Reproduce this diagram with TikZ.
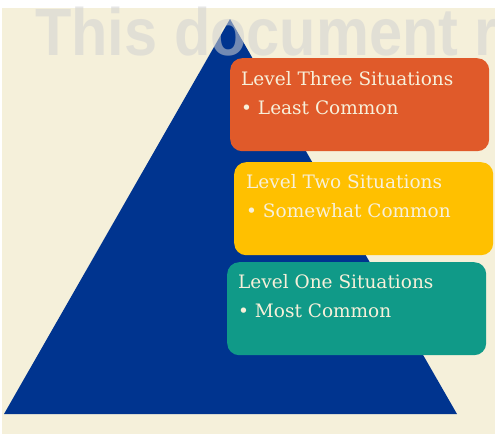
\documentclass[tikz,border=0pt]{standalone}
\usepackage{fontspec}
\setmainfont{DejaVu Serif}
\newfontfamily\markfont{Liberation Sans}
\usetikzlibrary{positioning}

\definecolor{paper}{HTML}{F5F0DA}
\definecolor{pyramid}{HTML}{00348F}
\definecolor{levelthree}{HTML}{E05A2A}
\definecolor{leveltwo}{HTML}{FFC000}
\definecolor{levelone}{HTML}{109A88}
\definecolor{cream}{HTML}{F7F0DA}
\definecolor{stamp}{HTML}{D2D2D2}

\begin{document}
\begin{tikzpicture}[x=1pt, y=-1pt,
    level/.style={rounded corners=12pt, anchor=north west, inner sep=0pt,
        minimum width=259pt, minimum height=93pt},
    caption/.style={anchor=north west, inner sep=0pt, text=cream, align=left,
        font=\fontsize{18.5}{29}\selectfont}
    ]
\useasboundingbox (0,0) rectangle (495,434);
\fill[white] (0,0) rectangle (495,434);
\fill[paper] (2,8) rectangle (495,434);

% the pyramid
\coordinate (apex) at (230,19);
\coordinate (baseleft) at (4,414);
\coordinate (baseright) at (457,414);
\fill[pyramid] (apex) -- (baseright) -- (baseleft) -- cycle;

% watermark over the pyramid
\node[anchor=base west, inner sep=0pt, text=stamp, text opacity=0.55,
    xscale=0.96, yscale=1.08,
    font=\markfont\bfseries\fontsize{62}{62}\selectfont] (stamp) at (35,55) {This document r};

% levels, top to bottom
\node[level, fill=levelthree] (three) at (230,58) {};
\node[level, fill=leveltwo]   (two)   at (234,162) {};
\node[level, fill=levelone]   (one)   at (227,262) {};

\node[caption] (threetext) at ([shift={(11,13)}]three.north west)
    {Level Three Situations\\\textbullet\ Least Common};
\node[caption] (twotext) at ([shift={(12,12)}]two.north west)
    {Level Two Situations\\\textbullet\ Somewhat Common};
\node[caption] (onetext) at ([shift={(11,12)}]one.north west)
    {Level One Situations\\\textbullet\ Most Common};
\end{tikzpicture}
\end{document}
